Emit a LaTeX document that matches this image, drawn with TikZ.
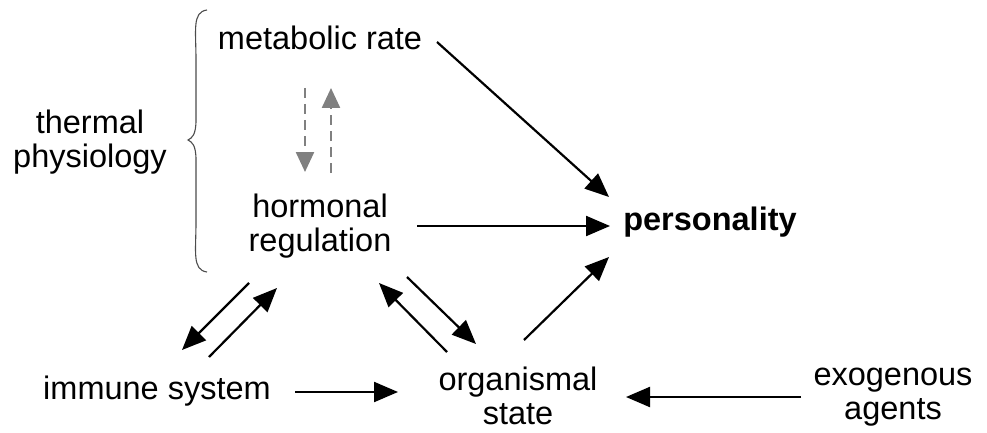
\documentclass[tikz,border=0pt]{standalone}
\usepackage{fontspec}
\setmainfont{Liberation Sans}
\usetikzlibrary{arrows.meta,decorations.pathreplacing}
\begin{document}
\begin{tikzpicture}[x=1pt,y=-1pt,
  lbl/.style={inner sep=0pt,align=center,font=\fontsize{32.5}{33.5}\selectfont},
  arr/.style={line width=2.2pt,-{Triangle[length=24pt,width=20pt]}},
  darr/.style={line width=2.4pt,draw=gray,dash pattern=on 10pt off 6pt,-{Triangle[length=20pt,width=18pt]}}]
\useasboundingbox (0,0) rectangle (987,433);
\node[lbl] (mr) at (320,38) {metabolic rate};
\node[lbl] (tp) at (90,142) {thermal\\physiology};
\node[lbl] (hr) at (320,226) {hormonal\\regulation};
\node[lbl,font=\fontsize{32.5}{33.5}\selectfont\bfseries] (pers) at (710,222) {personality};
\node[lbl] (im) at (157,391) {immune system};
\node[lbl] (os) at (518,396) {organismal\\state};
\node[lbl] (ex) at (893,397) {exogenous\\agents};
% brace
\draw[line width=1.1pt,gray!60!black] (207,10) .. controls (192,12) and (196,30) .. (196,60)
  -- (196,120) .. controls (196,135) and (192,138) .. (188,140)
  .. controls (192,142) and (196,145) .. (196,160) -- (196,222)
  .. controls (196,252) and (192,270) .. (207,272);
% arrow endpoints
\coordinate (a1s) at (437,42); \coordinate (a1e) at (609,197);
\coordinate (a2s) at (417,226); \coordinate (a2e) at (610,226);
\coordinate (a3s) at (524,340); \coordinate (a3e) at (609,257);
\coordinate (a4s) at (249,283); \coordinate (a4e) at (182,350);
\coordinate (a5s) at (209,357); \coordinate (a5e) at (277,288);
\coordinate (a6s) at (447,352); \coordinate (a6e) at (379,283);
\coordinate (a7s) at (407,277); \coordinate (a7e) at (476,344);
\coordinate (a8s) at (295,392); \coordinate (a8e) at (398,392);
\coordinate (a9s) at (801,397); \coordinate (a9e) at (626,397);
\coordinate (d1s) at (305,88); \coordinate (d1e) at (305,172);
\coordinate (d2s) at (331,173); \coordinate (d2e) at (331,88);
\draw[arr] (a1s) -- (a1e);
\draw[arr] (a2s) -- (a2e);
\draw[arr] (a3s) -- (a3e);
\draw[arr] (a4s) -- (a4e);
\draw[arr] (a5s) -- (a5e);
\draw[arr] (a6s) -- (a6e);
\draw[arr] (a7s) -- (a7e);
\draw[arr] (a8s) -- (a8e);
\draw[arr] (a9s) -- (a9e);
\draw[darr] (d1s) -- (d1e);
\draw[darr] (d2s) -- (d2e);
\end{tikzpicture}
\end{document}
